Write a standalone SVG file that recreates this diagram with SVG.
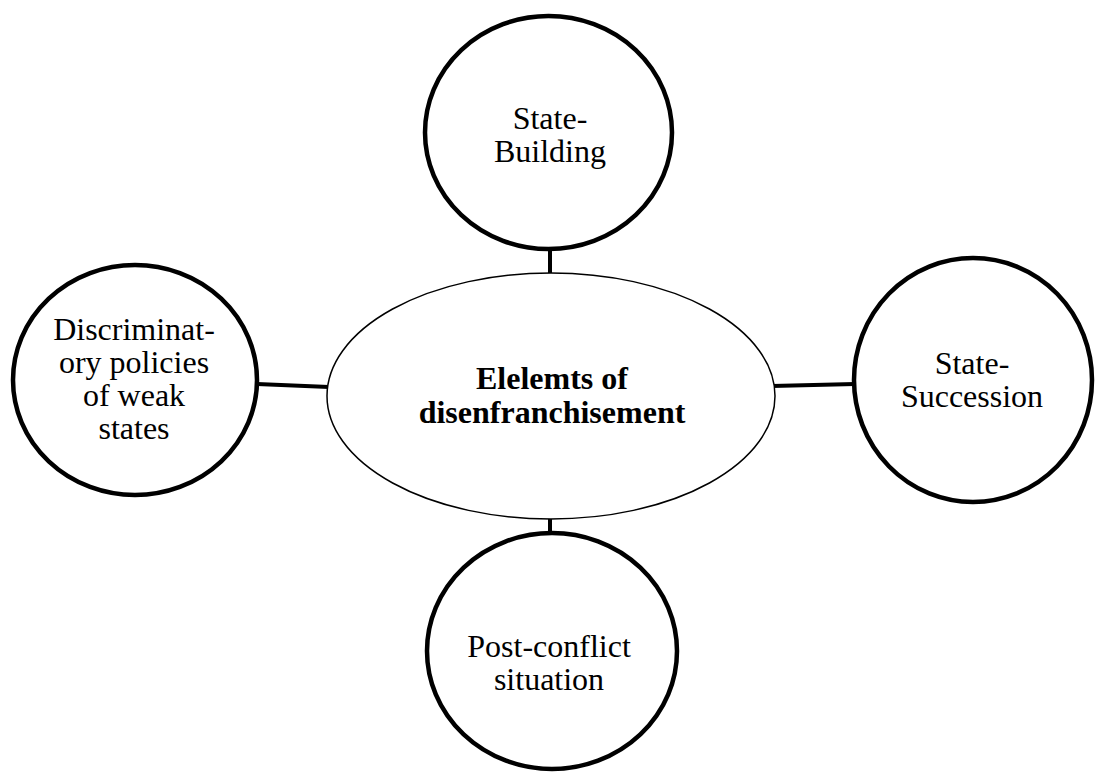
<svg xmlns="http://www.w3.org/2000/svg" width="1096" height="772" viewBox="0 0 1096 772">
<style>
.n{fill:#fff;stroke:#000;stroke-width:4.5}
.c{fill:#fff;stroke:#000;stroke-width:1.5}
.e{stroke:#000;stroke-width:4;fill:none}
text{font-family:"Liberation Serif","Times New Roman",serif;font-size:32px;fill:#000;text-anchor:middle}
.b{font-weight:bold}
</style>
<rect width="1096" height="772" fill="#fff"/>
<g id="connectors">
<line class="e" x1="550" y1="250" x2="550" y2="274"/>
<line class="e" x1="550" y1="518" x2="550" y2="534"/>
<line class="e" x1="257" y1="384" x2="329" y2="387"/>
<line class="e" x1="772" y1="386" x2="855" y2="384"/>
</g>
<g id="center">
<ellipse class="c" cx="551" cy="396" rx="224" ry="123"/>
<text class="b" x="552" y="389">Elelemts of</text>
<text class="b" x="552" y="423">disenfranchisement</text>
</g>
<g id="top">
<ellipse class="n" cx="548.5" cy="132.5" rx="123.5" ry="116.5"/>
<text x="550" y="129">State-</text>
<text x="550" y="162">Building</text>
</g>
<g id="left">
<ellipse class="n" cx="135" cy="380" rx="122" ry="115"/>
<text x="134" y="340">Discriminat-</text>
<text x="134" y="373">ory policies</text>
<text x="134" y="406">of weak</text>
<text x="134" y="439">states</text>
</g>
<g id="right">
<ellipse class="n" cx="973" cy="380" rx="119" ry="122"/>
<text x="972" y="374">State-</text>
<text x="972" y="407">Succession</text>
</g>
<g id="bottom">
<ellipse class="n" cx="552" cy="651" rx="125" ry="118"/>
<text x="549" y="657">Post-conflict</text>
<text x="549" y="690">situation</text>
</g>
</svg>
